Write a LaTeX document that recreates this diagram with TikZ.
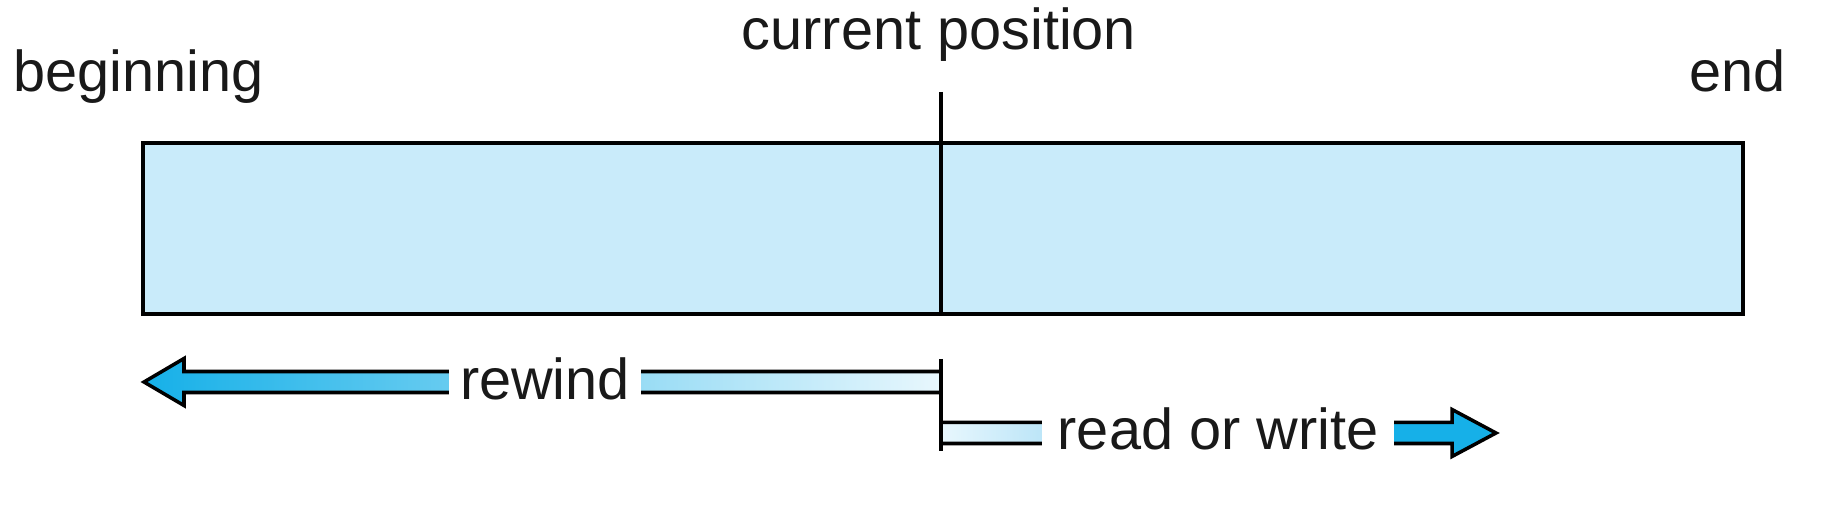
\documentclass[tikz,border=0pt]{standalone}
\usepackage{fontspec}
\setmainfont{Liberation Sans}
\usetikzlibrary{positioning,calc}
\definecolor{tapefill}{RGB}{201,235,250}
\definecolor{headcyan}{RGB}{22,176,232}
\definecolor{fadecyan}{RGB}{232,247,253}
\definecolor{shaftlight}{RGB}{180,226,247}

\begin{document}
\begin{tikzpicture}[
  x=0.01cm, y=-0.01cm,
  lbl/.style={font=\fontsize{16.4}{19}\selectfont, text=black!90, inner sep=0pt},
  gaplbl/.style={lbl, fill=white, inner xsep=1.1mm, inner ysep=0.5mm},
  tape/.style={draw, line width=1.1pt, fill=tapefill, inner sep=0pt},
  outline/.style={draw, line width=1pt, line join=miter}
]
\useasboundingbox (0,0) rectangle (1840,522);

% The tape itself.
\node[tape, anchor=north west, minimum width=15.99cm, minimum height=1.71cm]
  (tape) at (141,141) {};

% Marker for the current position.
\coordinate (cur) at (941,92);
\draw[outline] (cur) -- (cur |- tape.south);

\node[lbl, anchor=base west] (beg) at (13,92) {beginning};
\node[lbl, anchor=base east] (end) at (1786,92) {end};
\node[lbl, anchor=base] (curpos) at (939,50) {current position};

% Start tick under the tape.
\coordinate (tickTop) at (941,359);
\coordinate (tickBot) at (941,451);

% Rewind arrow, fading towards the tick.
\coordinate (rwStart) at (941,382);
\coordinate (rwTip) at (144,382);
\draw[outline, left color=headcyan, right color=fadecyan]
  (rwTip) -- ++(40,-23.5) -- ++(0,13) -| ([yshift=-1.05mm]rwStart)
  -- ++(-757,0) -- ++(0,13) -- cycle;

% Read or write arrow.
\coordinate (rdStart) at (941,433);
\coordinate (rdTip) at (1496,433);
\fill[left color=fadecyan, right color=shaftlight]
  ([yshift=1.05mm]rdStart) rectangle ++(120,21);
\fill[headcyan] (rdTip) -- ++(-44,-23.5) -- ++(0,13) -- ++(-80,0)
  -- ++(0,21) -- ++(80,0) -- ++(0,13) -- cycle;
\draw[outline] ([yshift=1.05mm]rdStart) -- ++(511,0) -- ++(0,-13)
  -- (rdTip) -- ++(-44,23.5) -- ++(0,-13) -- ++(-511,0);

\draw[outline] (tickTop) -- (tickBot);

\node[gaplbl, anchor=base] (rewind) at (545,400) {rewind};
\node[gaplbl, inner xsep=1.6mm, anchor=base] (rdwr) at (1218,450) {read or write};

\end{tikzpicture}
\end{document}
